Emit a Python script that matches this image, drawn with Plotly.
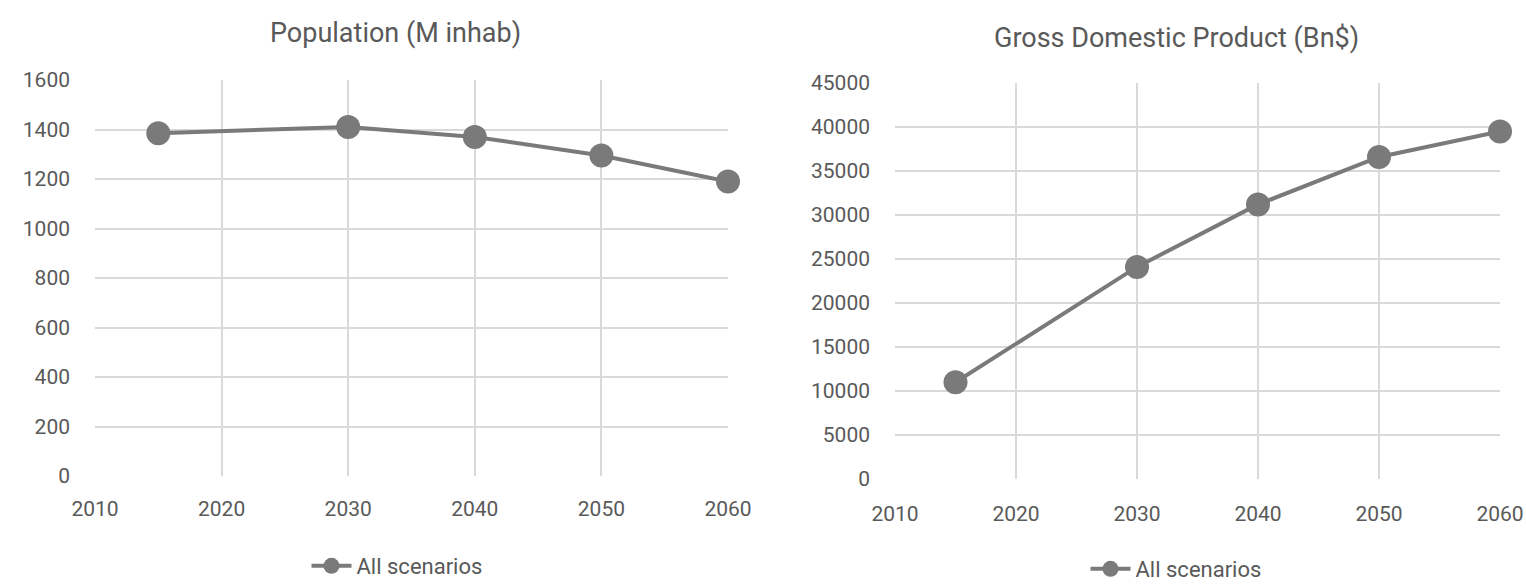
import plotly.graph_objects as go

years = [2015, 2030, 2040, 2050, 2060]
population = [1385, 1410, 1370, 1295, 1190]
gdp = [11000, 24100, 31200, 36600, 39500]

pop_ticks = [0, 200, 400, 600, 800, 1000, 1200, 1400, 1600]
gdp_ticks = [0, 5000, 10000, 15000, 20000, 25000, 30000, 35000, 40000, 45000]
year_ticks = [2010, 2020, 2030, 2040, 2050, 2060]

FONT = "Roboto, sans-serif"
LINE = "#7a7a7a"
GRID = "#d9d9d9"
TXT = "#595959"

W, H = 1526, 584

fig = go.Figure()

fig.add_trace(go.Scatter(
    x=years, y=population, mode="lines+markers", name="All scenarios",
    line=dict(color=LINE, width=4), marker=dict(color=LINE, size=24),
    xaxis="x", yaxis="y", legend="legend", showlegend=True, cliponaxis=False,
))
fig.add_trace(go.Scatter(
    x=years, y=gdp, mode="lines+markers", name="All scenarios",
    line=dict(color=LINE, width=4), marker=dict(color=LINE, size=24),
    xaxis="x2", yaxis="y2", legend="legend2", showlegend=True, cliponaxis=False,
))

def px_x(p):
    return p / W

def px_y(p):
    return 1 - p / H

axis_common = dict(
    showgrid=True, gridcolor=GRID, gridwidth=2,
    zeroline=False, showline=False,
    tickfont=dict(family=FONT, size=21, color=TXT),
    ticks="", automargin=False, fixedrange=True, tickformat="d",
)

legend_common = dict(
    xanchor="center", yanchor="middle", orientation="h",
    font=dict(family=FONT, size=22, color=TXT),
    bgcolor="rgba(0,0,0,0)", itemwidth=40,
)

fig.update_layout(
    width=W, height=H,
    margin=dict(l=0, r=0, t=0, b=0, autoexpand=False),
    paper_bgcolor="white", plot_bgcolor="white",
    font=dict(family=FONT, color=TXT),
    showlegend=True,
    xaxis=dict(domain=[px_x(95), px_x(728)], range=[2010, 2060],
               tickvals=year_ticks, anchor="y", ticklabelstandoff=18, **axis_common),
    yaxis=dict(domain=[px_y(476), px_y(80)], range=[0, 1600],
               tickvals=pop_ticks, anchor="x", ticklabelstandoff=24, **axis_common),
    xaxis2=dict(domain=[px_x(895), px_x(1500)], range=[2010, 2060],
                tickvals=year_ticks, anchor="y2", ticklabelstandoff=20, **axis_common),
    yaxis2=dict(domain=[px_y(479), px_y(83)], range=[0, 45000],
                tickvals=gdp_ticks, anchor="x2", ticklabelstandoff=24, **axis_common),
    legend=dict(x=px_x(397), y=px_y(566), **legend_common),
    legend2=dict(x=px_x(1176), y=px_y(569), **legend_common),
    annotations=[
        dict(text="Population (M inhab)", x=px_x(395), y=px_y(33),
             xref="paper", yref="paper", xanchor="center", yanchor="middle",
             showarrow=False, font=dict(family=FONT, size=27, color=TXT)),
        dict(text="Gross Domestic Product (Bn$)", x=px_x(1176), y=px_y(38),
             xref="paper", yref="paper", xanchor="center", yanchor="middle",
             showarrow=False, font=dict(family=FONT, size=27, color=TXT)),
    ],
)

fig.write_html("out.html")
